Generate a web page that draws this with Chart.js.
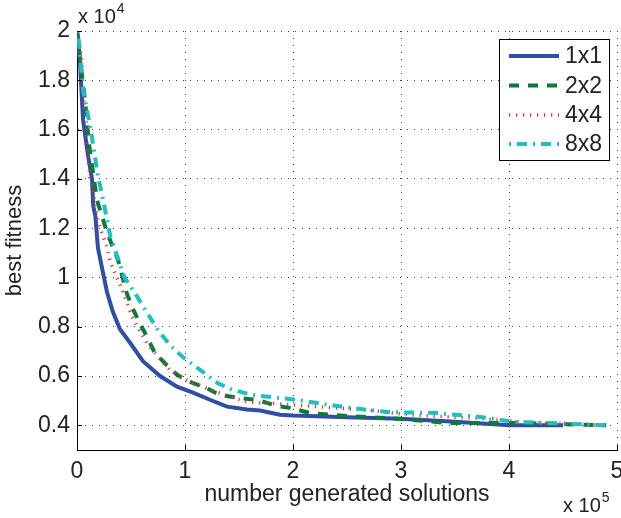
<!DOCTYPE html>
<html>
<head>
<meta charset="utf-8">
<script src="https://cdn.jsdelivr.net/npm/chart.js@4.4.1/dist/chart.umd.min.js"></script>
<style>
  html, body { margin: 0; padding: 0; background: #ffffff; }
  #c { display: block; }
</style>
</head>
<body>
<canvas id="c" width="621" height="518"></canvas>
<script>
// ---- data (x in units of 1e5 generated solutions, y in units of 1e4 fitness) ----
const seriesNames = ['1x1', '2x2', '4x4', '8x8'];

const x1x1 = [0, 0.01, 0.028, 0.056, 0.10, 0.139, 0.15, 0.17, 0.194, 0.231, 0.278, 0.333, 0.398, 0.491, 0.611, 0.769, 0.926, 1.074, 1.231, 1.389, 1.574, 1.694, 1.88, 2.0, 2.5, 3.0, 3.5, 4.0, 4.5];
const y1x1 = [2.0, 1.97, 1.87, 1.64, 1.50, 1.40, 1.29, 1.25, 1.12, 1.04, 0.94, 0.86, 0.79, 0.735, 0.66, 0.60, 0.557, 0.533, 0.504, 0.476, 0.464, 0.46, 0.443, 0.44, 0.433, 0.427, 0.415, 0.40, 0.40];

const x2x2 = [0, 0.03, 0.074, 0.11, 0.16, 0.185, 0.28, 0.38, 0.46, 0.51, 0.58, 0.65, 0.72, 0.83, 0.93, 1.07, 1.2, 1.32, 1.51, 1.67, 1.85, 1.97, 2.16, 2.5, 3.0, 3.42, 4.0, 4.9];
const y2x2 = [2.0, 1.88, 1.72, 1.545, 1.39, 1.314, 1.18, 1.071, 0.937, 0.88, 0.815, 0.759, 0.694, 0.645, 0.604, 0.572, 0.552, 0.523, 0.511, 0.503, 0.479, 0.471, 0.45, 0.438, 0.426, 0.41, 0.41, 0.40];

const x4x4 = [0, 0.02, 0.046, 0.056, 0.083, 0.093, 0.12, 0.14, 0.185, 0.23, 0.28, 0.31, 0.42, 0.51, 0.65, 0.86, 1.02, 1.23, 1.57, 1.88, 2.25, 2.69, 3.1, 3.8, 4.1, 4.9];
const y4x4 = [2.0, 1.95, 1.88, 1.73, 1.65, 1.54, 1.40, 1.37, 1.245, 1.18, 1.12, 1.06, 0.95, 0.84, 0.73, 0.625, 0.584, 0.544, 0.495, 0.487, 0.475, 0.462, 0.442, 0.426, 0.414, 0.40];

const x8x8 = [0, 0.02, 0.056, 0.093, 0.13, 0.167, 0.194, 0.23, 0.31, 0.44, 0.56, 0.65, 0.75, 0.86, 0.98, 1.14, 1.3, 1.44, 1.63, 2.04, 2.46, 2.87, 3.33, 3.73, 4.04, 4.35, 4.9];
const y8x8 = [2.0, 1.95, 1.76, 1.68, 1.59, 1.49, 1.41, 1.34, 1.164, 1.0, 0.92, 0.856, 0.787, 0.726, 0.677, 0.625, 0.572, 0.544, 0.523, 0.503, 0.475, 0.454, 0.45, 0.434, 0.414, 0.41, 0.40];

const xTicks = [0, 1, 2, 3, 4, 5];
const yTicks = [0.4, 0.6, 0.8, 1.0, 1.2, 1.4, 1.6, 1.8, 2.0];
const xMultiplier = '5';
const yMultiplier = '4';

// ---- build ----
const FONT = "'Liberation Sans', Arial, Helvetica, sans-serif";
const TXT = '#222222';
const pts = (xs, ys) => xs.map((x, i) => ({ x: x, y: ys[i] }));

const styles = [
  { color: '#2f4fa6', width: 4, dash: [] },
  { color: '#0b7b3b', width: 4, dash: [10, 9] },
  { color: '#ef2f2f', width: 3.5, dash: [1.2, 5.8] },
  { color: '#1ec1c1', width: 4, dash: [2, 6, 10, 6] }
];
const seriesData = [pts(x1x1, y1x1), pts(x2x2, y2x2), pts(x4x4, y4x4), pts(x8x8, y8x8)];

const datasets = seriesNames.map((name, i) => ({
  label: name,
  data: seriesData[i],
  borderColor: styles[i].color,
  backgroundColor: styles[i].color,
  borderWidth: styles[i].width,
  borderDash: styles[i].dash,
  pointRadius: 0,
  tension: 0,
  fill: false,
  order: 4 - i
}));

const fmtY = v => (Math.round(v * 10) / 10).toString();

const decorPlugin = {
  id: 'decor',
  afterDraw(chart) {
    const ctx = chart.ctx;
    const xs = chart.scales.x, ys = chart.scales.y;
    const ca = chart.chartArea;
    ctx.save();
    // inward tick marks
    ctx.strokeStyle = '#000';
    ctx.lineWidth = 1;
    ctx.setLineDash([]);
    xTicks.forEach(v => {
      const px = Math.round(xs.getPixelForValue(v)) + 0.5;
      ctx.beginPath(); ctx.moveTo(px, ca.bottom); ctx.lineTo(px, ca.bottom - 5); ctx.stroke();
    });
    yTicks.forEach(v => {
      const py = Math.round(ys.getPixelForValue(v)) + 0.5;
      ctx.beginPath(); ctx.moveTo(ca.left, py); ctx.lineTo(ca.left + 5, py); ctx.stroke();
    });
    // exponent labels
    ctx.fillStyle = TXT;
    ctx.textBaseline = 'alphabetic';
    ctx.textAlign = 'left';
    ctx.font = '20px ' + FONT;
    const tx = ca.left + 1, tyb = ca.top - 8;
    ctx.fillText('x 10', tx, tyb);
    const w1 = ctx.measureText('x 10').width;
    ctx.font = '14px ' + FONT;
    ctx.fillText(yMultiplier, tx + w1 + 1, tyb - 10);
    ctx.font = '20px ' + FONT;
    const bx = ca.right - 54, byb = 512;
    ctx.fillText('x 10', bx, byb);
    const w2 = ctx.measureText('x 10').width;
    ctx.font = '14px ' + FONT;
    ctx.fillText(xMultiplier, bx + w2 + 1, byb - 10);

    // legend
    const lw = 110, lh = 121;
    const lx = ca.right - 118, ly = ca.top + 8;
    ctx.fillStyle = '#ffffff';
    ctx.fillRect(lx, ly, lw, lh);
    ctx.strokeStyle = '#000';
    ctx.lineWidth = 1;
    ctx.strokeRect(lx + 0.5, ly + 0.5, lw, lh);
    const rowY = [ly + 17, ly + 46.5, ly + 76, ly + 105];
    chart.data.datasets.forEach((ds, i) => {
      const y = rowY[i];
      ctx.save();
      ctx.strokeStyle = ds.borderColor;
      ctx.lineWidth = ds.borderWidth;
      ctx.setLineDash(ds.borderDash || []);
      ctx.beginPath();
      ctx.moveTo(lx + 10, y);
      ctx.lineTo(lx + 60, y);
      ctx.stroke();
      ctx.restore();
      ctx.fillStyle = TXT;
      ctx.font = '23px ' + FONT;
      ctx.textBaseline = 'middle';
      ctx.fillText(ds.label, lx + 66, y + 1);
    });
    ctx.restore();
  }
};

new Chart(document.getElementById('c'), {
  type: 'line',
  data: { datasets: datasets },
  options: {
    responsive: false,
    animation: false,
    devicePixelRatio: 1,
    layout: { padding: { left: 0, top: 31, right: 4, bottom: 0 } },
    plugins: { legend: { display: false }, tooltip: { enabled: false } },
    scales: {
      x: {
        type: 'linear',
        min: 0, max: 5,
        afterBuildTicks: s => { s.ticks = xTicks.map(v => ({ value: v })); },
        afterFit: s => { s.height = 68; s.paddingLeft = 0; s.paddingRight = 0; },
        ticks: { font: { family: FONT, size: 23 }, color: TXT, padding: 8, maxRotation: 0, autoSkip: false,
                 callback: v => v.toString() },
        grid: { color: '#444', lineWidth: 1, drawTicks: false },
        border: { display: true, color: '#000', width: 1, dash: [1, 6] },
        title: { display: true, text: 'number generated solutions', color: TXT,
                 font: { family: FONT, size: 23, lineHeight: 1 }, padding: { top: 0, bottom: 12 } }
      },
      y: {
        type: 'linear',
        min: 0.3, max: 2.0,
        afterBuildTicks: s => { s.ticks = yTicks.map(v => ({ value: v })); },
        afterFit: s => { s.width = 77; s.paddingTop = 0; s.paddingBottom = 0; },
        ticks: { font: { family: FONT, size: 23 }, color: TXT, padding: 7, autoSkip: false,
                 callback: v => fmtY(v) },
        grid: { color: '#444', lineWidth: 1, drawTicks: false },
        border: { display: true, color: '#000', width: 1, dash: [1, 6] },
        title: { display: true, text: 'best fitness', color: TXT,
                 font: { family: FONT, size: 22, lineHeight: 1 }, padding: { top: 4, bottom: 0 } }
      }
    }
  },
  plugins: [decorPlugin]
});
</script>
</body>
</html>
